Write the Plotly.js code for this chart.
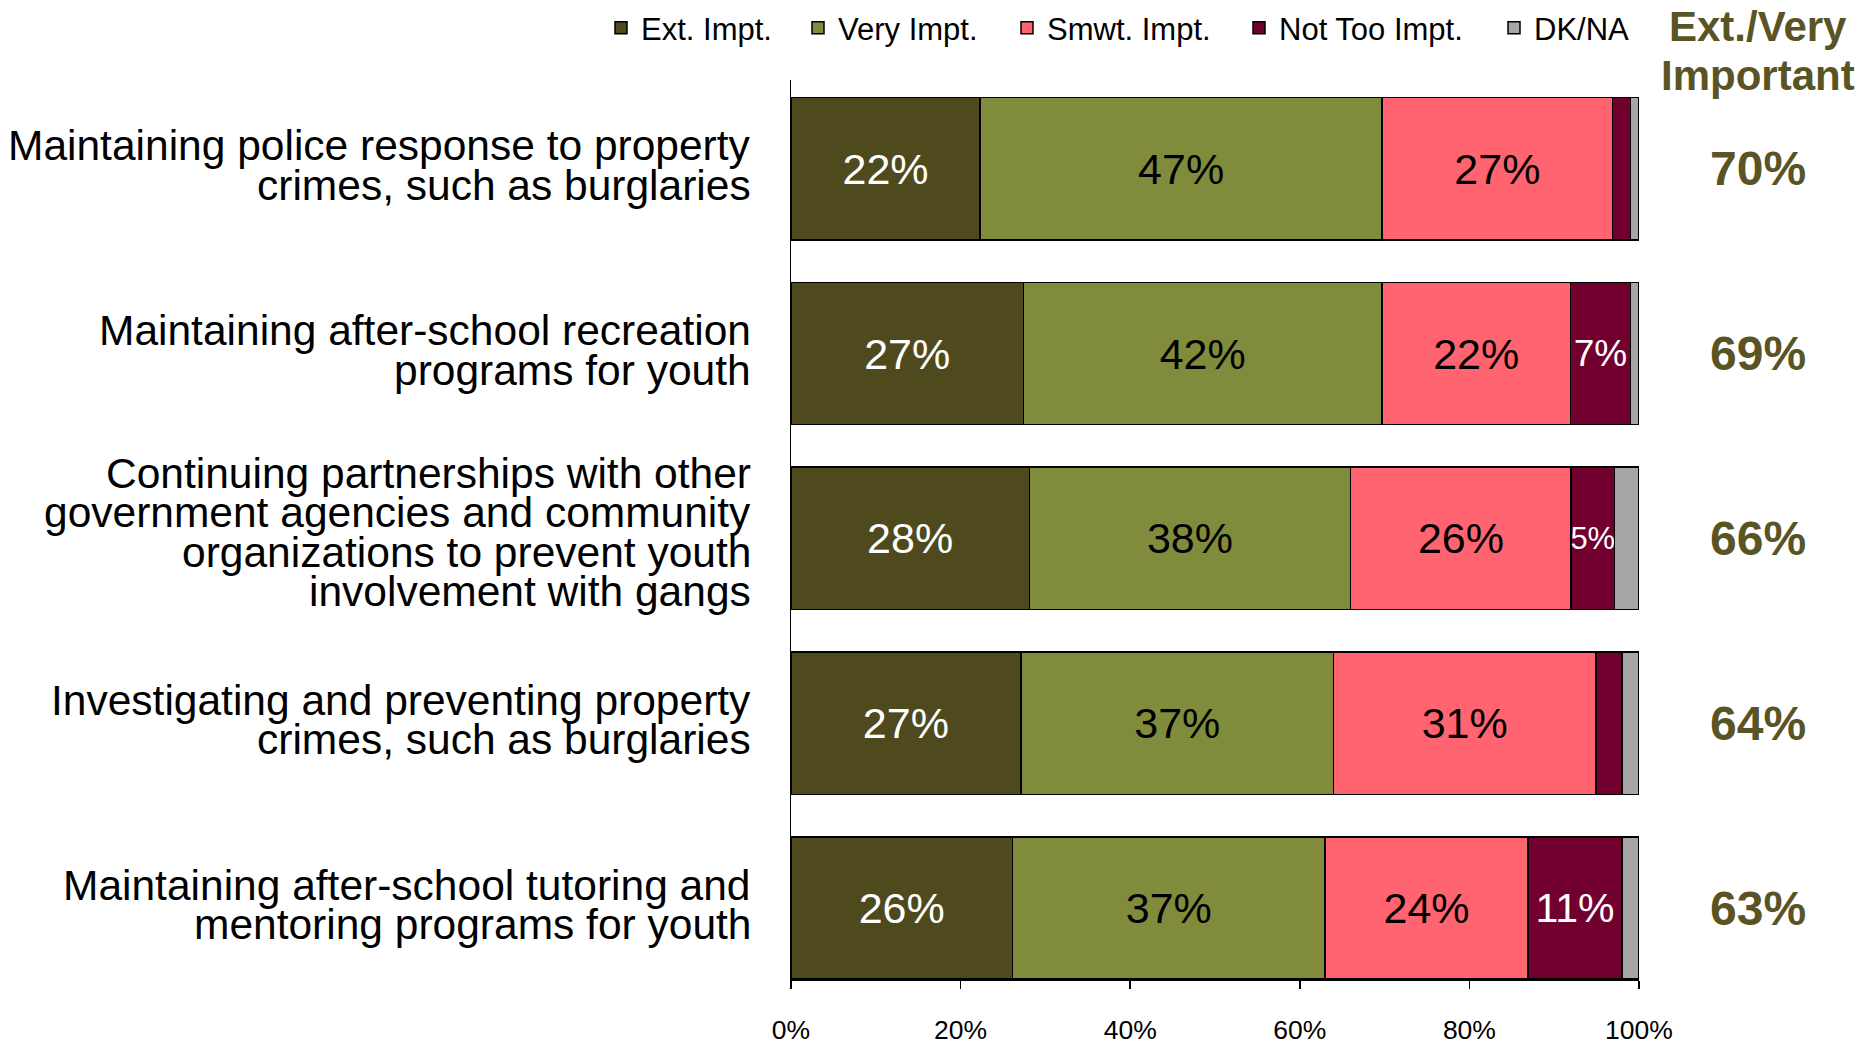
<!DOCTYPE html>
<html>
<head>
<meta charset="utf-8">
<script src="https://cdn.plot.ly/plotly-3.0.1.min.js"></script>
<style>html,body{margin:0;padding:0;background:#fff;}#chart{width:1868px;height:1044px;}</style>
</head>
<body>
<div id="chart"></div>
<script>
// ---- data ----
const categories = [
  "Maintaining police response to property<br>crimes, such as burglaries",
  "Maintaining after-school recreation<br>programs for youth",
  "Continuing partnerships with other<br>government agencies and community<br>organizations to prevent youth<br>involvement with gangs",
  "Investigating and preventing property<br>crimes, such as burglaries",
  "Maintaining after-school tutoring and<br>mentoring programs for youth"
];
const seriesNames = ["Ext. Impt.", "Very Impt.", "Smwt. Impt.", "Not Too Impt.", "DK/NA"];
const extImpt    = [22.3, 27.4, 28.1, 27.1, 26.1];
const veryImpt   = [47.4, 42.3, 37.9, 36.9, 36.9];
const smwtImpt   = [27.2, 22.2, 26.0, 30.9, 23.9];
const notTooImpt = [2.1, 7.1, 5.1, 3.1, 11.1];
const dkNa       = [1.0, 1.0, 2.9, 2.0, 2.0];
const extVeryTotal = [70, 69, 66, 64, 63];
const totalHeader = ["Ext./Very", "Important"];
const xTicks = [0, 20, 40, 60, 80, 100];

// ---- styles ----
const FONT = "Liberation Sans, Arial, sans-serif";
const colors = ["#4F4A1E", "#808C3C", "#FF6470", "#72002F", "#A6A6A6"];
const textColors = ["#FFFFFF", "#000000", "#000000", "#FFFFFF", "#000000"];
const textSizes = [
  [43, 43, 43, 43, 43],
  [43, 43, 43, 43, 43],
  [43, 43, 43, 43, 43],
  [43, 37, 31, 43, 41],
  [43, 43, 43, 43, 43]
];
const showLabel = [true, true, true, true, false];

// plot geometry (pixels)
const W = 1868, H = 1044;
const mL = 791, mR = 229, mT = 80, mB = 65;
const plotW = W - mL - mR;
const plotH = H - mT - mB;
const pyToPaper = py => (H - mB - py) / plotH;
const pxToPaper = px => (px - mL) / plotW;
const totalsX = pxToPaper(1758);
const legendMarkerPx = [615, 812, 1021, 1253, 1508];
const legendIds = ["legend", "legend2", "legend3", "legend4", "legend5"];

const allSeries = [extImpt, veryImpt, smwtImpt, notTooImpt, dkNa];
const traces = allSeries.map((vals, i) => ({
  type: "bar",
  orientation: "h",
  name: seriesNames[i],
  legend: legendIds[i],
  y: categories,
  x: vals,
  width: 0.77,
  marker: { color: colors[i], line: { color: "#000", width: 1.5 } },
  text: vals.map(v => (showLabel[i] && v >= 5) ? Math.round(v) + "%" : ""),
  textposition: "inside",
  insidetextanchor: "middle",
  textangle: 0,
  constraintext: "none",
  textfont: { family: FONT, color: textColors[i], size: textSizes[i] },
  hoverinfo: "x+name"
}));

const annotations = [];
// category labels, one annotation per line for tight line spacing
const lineGap = 39.5;
categories.forEach(cat => {
  const lines = cat.split("<br>");
  const n = lines.length;
  lines.forEach((ln, j) => {
    annotations.push({
      xref: "paper", yref: "y", x: 0, y: cat,
      xanchor: "right", yanchor: "middle", xshift: -38,
      yshift: ((n - 1) / 2 - j) * lineGap + (n > 2 ? 6 : 3),
      text: ln, showarrow: false,
      font: { family: FONT, size: 42.5, color: "#000" }
    });
  });
});
// totals
categories.forEach((cat, i) => {
  annotations.push({
    xref: "paper", yref: "y", x: totalsX, y: cat,
    xanchor: "center", yanchor: "middle",
    text: extVeryTotal[i] + "%", showarrow: false,
    font: { family: FONT, size: 48, color: "#5A5424", weight: "bold" }
  });
});
// header
[26, 75].forEach((py, j) => {
  annotations.push({
    xref: "paper", yref: "paper", x: totalsX, y: pyToPaper(py),
    xanchor: "center", yanchor: "middle",
    text: totalHeader[j], showarrow: false,
    font: { family: FONT, size: 42, color: "#5A5424", weight: "bold" }
  });
});

const layout = {
  width: W, height: H,
  margin: { l: mL, r: mR, t: mT, b: mB, pad: 0, autoexpand: false },
  paper_bgcolor: "#fff", plot_bgcolor: "#fff",
  barmode: "stack",
  font: { family: FONT, color: "#000" },
  showlegend: true,
  xaxis: {
    range: [0, 100], tickvals: xTicks, ticktext: xTicks.map(v => v + "%"),
    ticks: "outside", ticklen: 8, tickwidth: 1.5, tickcolor: "#000",
    showline: true, linecolor: "#000", linewidth: 1.5,
    showgrid: false, zeroline: false,
    tickfont: { family: FONT, size: 26.5, color: "#000" },
    ticklabelstandoff: 19
  },
  yaxis: {
    type: "category", categoryorder: "array", categoryarray: categories,
    range: [4.384, -0.48],
    showline: true, linecolor: "#000", linewidth: 1.5,
    showticklabels: false, ticks: "", showgrid: false, zeroline: false
  },
  annotations: annotations
};
legendIds.forEach((id, i) => {
  layout[id] = {
    orientation: "h",
    x: pxToPaper(legendMarkerPx[i] - 14), xanchor: "left",
    y: pyToPaper(28), yanchor: "middle",
    font: { family: FONT, size: 31, color: "#000" },
    bgcolor: "rgba(0,0,0,0)", borderwidth: 0,
    itemwidth: 30
  };
});

Plotly.newPlot("chart", traces, layout, { displayModeBar: false, staticPlot: true });
</script>
</body>
</html>
